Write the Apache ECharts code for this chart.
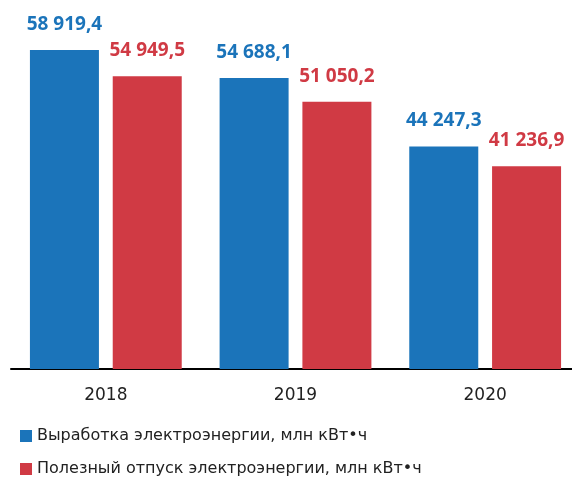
<!DOCTYPE html>
<html>
<head>
<meta charset="utf-8">
<script src="https://cdn.jsdelivr.net/npm/echarts@6/dist/echarts.min.js"></script>
<style>
  html, body { margin: 0; padding: 0; background: #fff; }
  #chart { width: 572px; height: 477px; }
</style>
</head>
<body>
<div id="chart"></div>
<script>
const years = ["2018", "2019", "2020"];
const production = [58919.4, 54688.1, 44247.3];
const supply = [54949.5, 51050.2, 41236.9];
const seriesNames = [
  "Выработка электроэнергии, млн кВт•ч",
  "Полезный отпуск электроэнергии, млн кВт•ч"
];

const blue = "#1b74ba";
const red = "#d03a44";

// "58 919,4" style
const fmt = (v) => {
  const parts = v.toFixed(1).split(".");
  return parts[0].replace(/\B(?=(\d{3})+(?!\d))/g, " ") + "," + parts[1];
};

const chart = echarts.init(document.getElementById("chart"));

const labelStyle = (color) => ({
  show: true,
  position: "top",
  distance: 16,
  color: color,
  fontFamily: "Open Sans",
  fontWeight: "bold",
  fontSize: 19,
  formatter: (p) => fmt(p.value)
});

const legendText = { fontFamily: "DejaVu Sans", fontSize: 16, color: "#222" };

chart.setOption({
  animation: false,
  grid: { left: 11, width: 569, top: 43, bottom: 108, outerBoundsMode: "none" },
  legend: [
    {
      left: 20, top: 428, padding: 0, itemWidth: 12, itemHeight: 12, icon: "rect",
      textStyle: legendText, data: [seriesNames[0]]
    },
    {
      left: 20, top: 461, padding: 0, itemWidth: 12, itemHeight: 12, icon: "rect",
      textStyle: legendText, data: [seriesNames[1]]
    }
  ],
  xAxis: {
    type: "category",
    data: years,
    axisTick: { show: false },
    axisLine: { lineStyle: { color: "#000", width: 2 } },
    axisLabel: { margin: 18, fontFamily: "DejaVu Sans", fontSize: 17, color: "#222" }
  },
  yAxis: {
    type: "value",
    min: 10400,
    max: 60000,
    show: false,
    splitLine: { show: false }
  },
  series: [
    {
      name: seriesNames[0],
      type: "bar",
      data: production,
      barWidth: 69,
      barGap: "20%",
      itemStyle: { color: blue },
      label: labelStyle(blue)
    },
    {
      name: seriesNames[1],
      type: "bar",
      data: supply,
      barWidth: 69,
      itemStyle: { color: red },
      label: labelStyle(red)
    }
  ]
});
</script>
</body>
</html>
